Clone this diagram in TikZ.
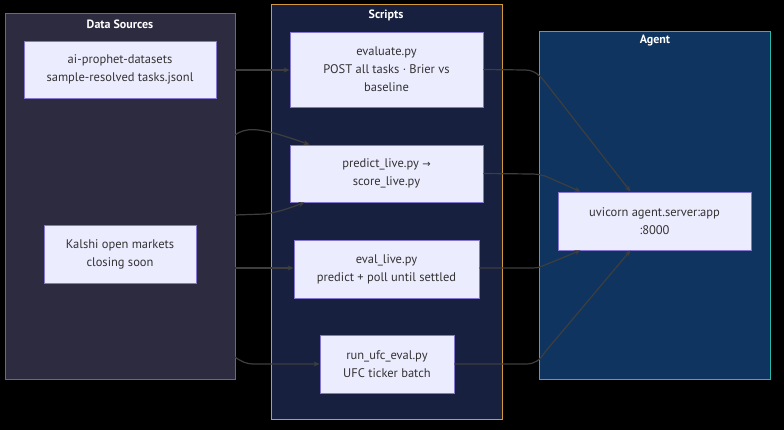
\documentclass[tikz,border=0pt]{standalone}
\usepackage{fontspec}
\setmainfont{PT Sans}
\newfontfamily\symfont{DejaVu Sans}
\usepackage{tikz}
\usetikzlibrary{arrows.meta, positioning, calc}
\definecolor{dsfill}{HTML}{2D2B40}
\definecolor{dsline}{HTML}{6A5ACD}
\definecolor{scfill}{HTML}{17213F}
\definecolor{scline}{HTML}{D29A3A}
\definecolor{agfill}{HTML}{0F3460}
\definecolor{agline}{HTML}{2AB7A9}
\definecolor{boxfill}{HTML}{ECECFF}
\definecolor{boxline}{HTML}{8577CF}
\definecolor{boxtext}{HTML}{333333}
\definecolor{linkcol}{HTML}{3E3E3E}
\tikzset{
    cluster/.style={draw, line width=1pt},
    ttl/.style={text=white, font=\fontsize{12}{14}\selectfont\bfseries},
    box/.style={draw=boxline, fill=boxfill, line width=0.8pt, align=center,
        inner sep=0pt, text=boxtext, font=\fontsize{12.5}{18}\selectfont},
    link/.style={draw=linkcol, line width=1.2pt, -{Stealth[length=6pt,width=5pt]}},
}

\begin{document}
\begin{tikzpicture}[x=1pt, y=-1pt]
        % Fonas
        \fill[black] (0,0) rectangle (784,430);

        % Grupės
        \draw[cluster, draw=dsline, fill=dsfill] (5,14) rectangle (235,379);
        \node[ttl] (dsT) at (120,24) {Data Sources};
        \draw[cluster, draw=scline, fill=scfill] (271,5) rectangle (502,419);
        \node[ttl] (scT) at (386,15) {Scripts};
        \draw[cluster, draw=agline, fill=agfill] (539,32) rectangle (770,379);
        \node[ttl] (agT) at (655,41) {Agent};

        % Išėjimo taškai ant grupės krašto
        \coordinate (o1) at (235,70);
        \coordinate (o2) at (235,135);
        \coordinate (o3) at (235,215);
        \coordinate (o4) at (235,268);
        \coordinate (o5) at (235,357);

        % Mazgai
        \node[box, minimum width=192pt, minimum height=57pt] (ds) at (120,69.5)
            {ai-prophet-datasets\\sample-resolved tasks.jsonl};
        \node[box, minimum width=152pt, minimum height=58pt] (kalshi) at (120,254)
            {Kalshi open markets\\closing soon};
        \node[box, minimum width=193pt, minimum height=75pt] (evalpy) at (386.5,69.5)
            {evaluate.py\\POST all tasks · Brier vs\\baseline};
        \node[box, minimum width=193pt, minimum height=57pt] (predict) at (386.5,173.5)
            {predict\_live.py {\symfont\fontsize{10}{18}\selectfont →}\\score\_live.py};
        \node[box, minimum width=185pt, minimum height=58pt] (evallive) at (386.5,269)
            {eval\_live.py\\predict + poll until settled};
        \node[box, minimum width=134pt, minimum height=58pt] (ufc) at (387,364)
            {run\_ufc\_eval.py\\UFC ticker batch};
        \node[box, minimum width=193pt, minimum height=58pt] (agent) at (654.5,221)
            {uvicorn agent.server:app\\:8000};

        % Jungtys į skriptus
        \draw[link] (o1) -- (evalpy.west |- o1);
        \draw[link] (o2) .. controls (248,126) and (262,128) .. ([xshift=20pt]predict.north west);
        \draw[link] (o3) -- (265,214) .. controls (280,212) and (295,206) .. ([xshift=15pt]predict.south west);
        \draw[link] (o4) -- (evallive.west |- o4);
        \draw[link] (o5) .. controls (242,362) and (246,364) .. (255,364) -- (ufc.west |- 0,364);

        % Jungtys į agentą
        \draw[link] (evalpy.east) -- (525,70) .. controls (535,70) and (540,76) .. (545,82)
            -- ([xshift=-24pt]agent.north);
        \draw[link] (predict.east) -- (532,174) .. controls (538,174) and (540,175) .. (545,176)
            -- ([xshift=-74pt]agent.north);
        \draw[link] (evallive.east |- 0,268) -- (532,268) .. controls (538,268) and (540,267) .. (545,265)
            -- ([xshift=-74pt]agent.south);
        \draw[link] (ufc.east) -- (526,364) .. controls (535,364) and (540,360) .. (545,352)
            -- ([xshift=-24pt]agent.south);
    \end{tikzpicture}
\end{document}
